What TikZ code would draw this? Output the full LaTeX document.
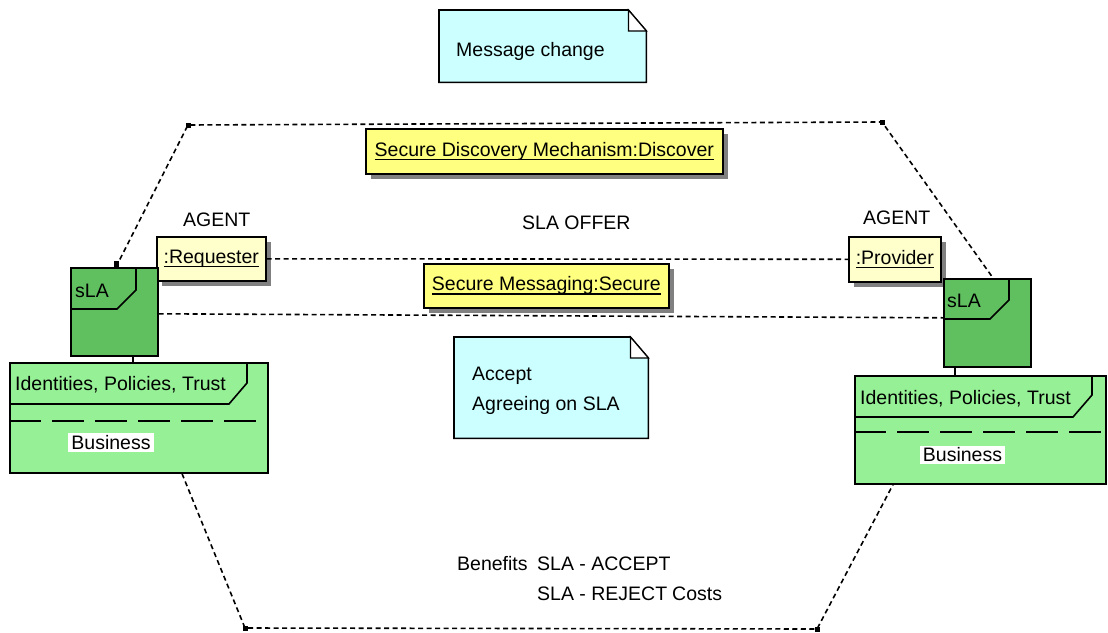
\documentclass[tikz,border=0pt]{standalone}
\usepackage{fontspec}
\setmainfont{Liberation Sans}
\usetikzlibrary{shadows}
\definecolor{dkgreen}{RGB}{96,192,96}
\definecolor{ltgreen}{RGB}{150,240,150}
\definecolor{objyellow}{RGB}{255,255,204}
\definecolor{boxyellow}{RGB}{255,255,128}
\definecolor{notecyan}{RGB}{204,255,255}
\definecolor{shadowgray}{RGB}{128,128,128}
\newcommand\myul[1]{\leavevmode\setbox0=\hbox{#1}\rlap{\rule[-4pt]{\wd0}{1.5pt}}\box0}
\begin{document}
\begin{tikzpicture}[x=1pt,y=-1pt,
  every node/.style={font=\fontsize{19.5}{23}\selectfont},
  lbl/.style={inner sep=0pt, anchor=base west},
  frame/.style={draw=black, line width=1.6pt},
  shadowed/.style={drop shadow={shadow xshift=5pt, shadow yshift=-5pt, fill=shadowgray, opacity=1}},
  objbox/.style={frame, fill=objyellow, inner sep=0pt, anchor=north west, shadowed},
  mechbox/.style={frame, fill=boxyellow, inner sep=0pt, anchor=north west, shadowed},
  slabox/.style={frame, fill=dkgreen, inner sep=0pt, anchor=north west},
  idbox/.style={frame, fill=ltgreen, inner sep=0pt, anchor=north west},
  notebox/.style={inner sep=0pt, anchor=north west},
  dline/.style={draw=black, line width=1.6pt, dash pattern=on 5pt off 3.5pt},
  tick/.style={draw=black, line width=1.3pt},
  longdash/.style={draw=black, line width=1.6pt, dash pattern=on 32pt off 11pt},
  busi/.style={fill=white, inner xsep=3pt, inner ysep=2pt}
]
\useasboundingbox[fill=white] (0,0) rectangle (1108,632);

% ---- notes ----
\node[notebox, minimum width=207pt, minimum height=72pt] (msg) at (439,10) {};
\filldraw[frame, fill=notecyan] (msg.north west) -- ([xshift=-18pt]msg.north east) -- ([yshift=-21pt]msg.north east) -- (msg.south east) -- (msg.south west) -- cycle;
\filldraw[frame, fill=white, line width=1.2pt] ([xshift=-18pt]msg.north east) -- ([xshift=-18pt,yshift=-21pt]msg.north east) -- ([yshift=-21pt]msg.north east) -- cycle;
\node[lbl] (msgtxt) at (456,56) {Message change};

\node[notebox, minimum width=194pt, minimum height=101pt] (acc) at (454,337) {};
\filldraw[frame, fill=notecyan] (acc.north west) -- ([xshift=-18pt]acc.north east) -- ([yshift=-21pt]acc.north east) -- (acc.south east) -- (acc.south west) -- cycle;
\filldraw[frame, fill=white, line width=1.2pt] ([xshift=-18pt]acc.north east) -- ([xshift=-18pt,yshift=-21pt]acc.north east) -- ([yshift=-21pt]acc.north east) -- cycle;
\node[lbl] (acctxt1) at (472,380) {Accept};
\node[lbl] (acctxt2) at (472,410) {Agreeing on SLA};

% ---- object boxes ----
\node[mechbox, minimum width=357pt, minimum height=45pt] (disc) at (365,128) {\myul{Secure Discovery Mechanism:Discover}};
\node[objbox, minimum width=109pt, minimum height=44pt] (req) at (156,236) {\myul{:Requester}};
\node[objbox, minimum width=92pt, minimum height=45pt] (prov) at (848,236) {\myul{:Provider}};
\node[mechbox, minimum width=245pt, minimum height=44pt] (sec) at (423,263) {\myul{Secure Messaging:Secure}};

\node[lbl] (agentL) at (183,226) {AGENT};
\node[lbl] (agentR) at (863,224) {AGENT};
\node[lbl] (offer) at (522,229) {SLA OFFER};

% ---- left packages ----
\node[slabox, minimum width=87pt, minimum height=88pt] (slaL) at (70,267) {};
\draw[frame] (136,267) -- (136,290) -- (117,309) -- (70,309);
\node[lbl] (slaLt) at (75,297) {sLA};

\node[idbox, minimum width=258pt, minimum height=110pt] (idL) at (9,362) {};
\draw[frame] (247,362) -- (247,383) -- (229,404) -- (9,404);
\draw[longdash] (9,421) -- (267,421);
\node[lbl] (idLt) at (15,390) {Identities, Policies, Trust};
\node[busi] (busL) at (111,442.5) {Business};

% ---- right packages ----
\node[slabox, minimum width=87pt, minimum height=88pt] (slaR) at (943,278) {};
\draw[frame] (1009,278) -- (1009,300) -- (990,319) -- (943,319);
\node[lbl] (slaRt) at (947,307) {sLA};

\node[idbox, minimum width=251pt, minimum height=108pt] (idR) at (854,375) {};
\draw[frame] (1092,375) -- (1092,395) -- (1073,417) -- (854,417);
\draw[longdash] (854,432) -- (1105,432);
\node[lbl] (idRt) at (860,404) {Identities, Policies, Trust};
\node[busi] (busR) at (962.5,455) {Business};

% ---- bottom texts ----
\node[lbl] (ben) at (457,570) {Benefits};
\node[lbl] (acpt) at (537,570) {SLA - ACCEPT};
\node[lbl] (rej) at (537,600) {SLA - REJECT};
\node[lbl] (cost) at (672,600) {Costs};

% ---- connectors ----
\coordinate (tl) at (188,125);
\coordinate (tr) at (882,122);
\coordinate (bl) at (245,628);
\coordinate (br) at (817,629);
\coordinate (xa) at (116,0);
\coordinate (xb) at (993,0);
\coordinate (xc) at (182,0);
\coordinate (xd) at (893,0);
\coordinate (xe) at (133,0);
\coordinate (xf) at (955,0);

\draw[dline] (xa |- slaL.north) -- (tl) -- (tr) -- (xb |- slaR.north);
\draw[dline] (req.east) -- (prov.west);
\draw[dline] ([yshift=-2pt]slaL.east) -- ([yshift=5pt]slaR.west);
\draw[dline] (xc |- idL.south) -- (bl) -- (br) -- (xd |- idR.south);
\draw[tick] (xe |- slaL.south) -- (xe |- idL.north);
\draw[tick] (xf |- slaR.south) -- (xf |- idR.north);

\foreach \p in {tl,tr,bl,br} \fill (\p) ++(-2.5pt,-2.5pt) rectangle ++(5pt,5pt);
\fill (xa |- slaL.north) ++(-2.5pt,0pt) rectangle ++(5pt,6pt);
\end{tikzpicture}
\end{document}
